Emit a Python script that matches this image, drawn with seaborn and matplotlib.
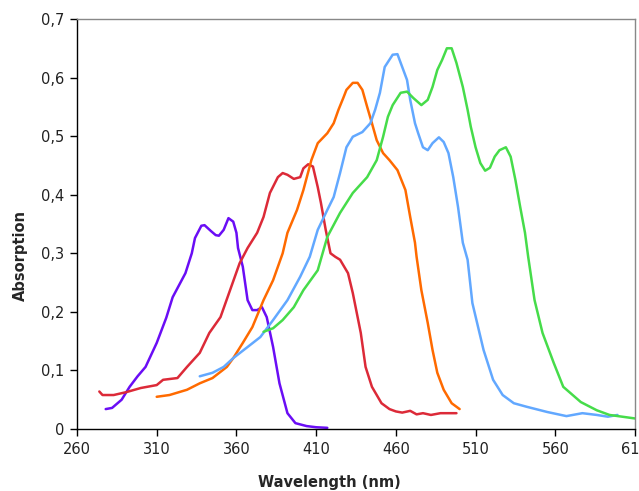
import matplotlib
matplotlib.use("Agg")
import pandas as pd
import matplotlib.pyplot as plt
import seaborn as sns
from matplotlib.ticker import FuncFormatter, MultipleLocator

# wavelength (nm) / absorption
purple_x = [278, 282, 288, 293, 298, 303, 310, 316, 320, 328, 332, 334, 338, 340, 344, 347, 349, 352, 355, 358, 360, 361,
            364, 367, 370, 373, 376, 379, 383, 387, 392, 397, 404, 410, 417]
purple_y = [0.034, 0.036, 0.05, 0.072, 0.09, 0.106, 0.147, 0.19, 0.225, 0.266, 0.30, 0.326, 0.347, 0.348, 0.338, 0.331, 0.33,
            0.34, 0.36, 0.354, 0.335, 0.309, 0.277, 0.22, 0.203, 0.203, 0.208, 0.191, 0.14, 0.078, 0.027, 0.01, 0.005, 0.003, 0.002]

red_x = [274, 276, 283, 291, 300, 310, 314, 323, 329, 337, 343, 350, 356, 362, 367, 373, 377, 381, 386, 389, 392, 396, 400,
         402, 405, 408, 411, 413, 416, 419, 422, 425, 430, 433, 438, 441, 445, 451, 456, 460, 464, 469, 473, 477, 482, 488, 493, 498]
red_y = [0.064, 0.058, 0.058, 0.063, 0.07, 0.075, 0.084, 0.087, 0.106, 0.13, 0.164, 0.191, 0.237, 0.283, 0.309, 0.335, 0.362,
         0.403, 0.43, 0.437, 0.434, 0.427, 0.43, 0.445, 0.452, 0.448, 0.413, 0.386, 0.34, 0.30, 0.294, 0.289, 0.266, 0.232,
         0.164, 0.106, 0.072, 0.044, 0.034, 0.03, 0.028, 0.031, 0.025, 0.027, 0.024, 0.027, 0.027, 0.027]

orange_x = [310, 318, 329, 337, 345, 354, 358, 364, 370, 377, 383, 389, 392, 398, 402, 407, 411, 417, 421, 424, 427, 429,
            433, 436, 439, 442, 445, 448, 452, 456, 461, 466, 469, 472, 473, 476, 480, 483, 486, 490, 495, 500]
orange_y = [0.055, 0.058, 0.067, 0.078, 0.087, 0.106, 0.121, 0.147, 0.174, 0.22, 0.254, 0.30, 0.335, 0.374, 0.408, 0.459,
            0.488, 0.505, 0.522, 0.545, 0.565, 0.579, 0.591, 0.591, 0.579, 0.55, 0.522, 0.493, 0.471, 0.459, 0.442, 0.408,
            0.362, 0.318, 0.294, 0.237, 0.181, 0.135, 0.096, 0.067, 0.044, 0.034]

blue_x = [337, 345, 352, 358, 367, 375, 383, 392, 400, 406, 411, 417, 421, 425, 429, 433, 439, 444, 447, 450, 453, 458, 461,
          464, 467, 469, 472, 474, 477, 480, 483, 487, 490, 493, 496, 499, 502, 505, 508, 515, 521, 527, 534, 542, 555, 567,
          577, 586, 593, 599]
blue_y = [0.09, 0.096, 0.106, 0.121, 0.14, 0.157, 0.186, 0.22, 0.26, 0.294, 0.34, 0.374, 0.396, 0.437, 0.481, 0.499, 0.507,
          0.522, 0.545, 0.574, 0.618, 0.639, 0.64, 0.618, 0.596, 0.562, 0.522, 0.505, 0.481, 0.476, 0.488, 0.498, 0.49, 0.471,
          0.43, 0.379, 0.318, 0.289, 0.215, 0.135, 0.084, 0.058, 0.044, 0.038, 0.029, 0.022, 0.027, 0.024, 0.021, 0.024]

green_x = [377, 383, 389, 396, 402, 411, 417, 425, 433, 442, 448, 452, 455, 458, 463, 467, 471, 476, 480, 483, 486, 489, 492,
           495, 498, 502, 505, 507, 510, 513, 516, 519, 522, 525, 529, 532, 535, 538, 541, 543, 547, 552, 559, 565, 576, 586,
           594, 610]
green_y = [0.166, 0.172, 0.186, 0.208, 0.237, 0.271, 0.328, 0.369, 0.403, 0.43, 0.459, 0.499, 0.533, 0.553, 0.574, 0.576,
           0.565, 0.553, 0.562, 0.584, 0.613, 0.63, 0.65, 0.65, 0.625, 0.584, 0.545, 0.516, 0.481, 0.454, 0.441, 0.446, 0.465,
           0.476, 0.481, 0.465, 0.425, 0.379, 0.335, 0.294, 0.22, 0.164, 0.113, 0.072, 0.046, 0.032, 0.024, 0.018]

x_ticks = [260, 310, 360, 410, 460, 510, 560, 610]

series = [
    (purple_x, purple_y, "#6A0DF5"),
    (red_x, red_y, "#DC2A38"),
    (orange_x, orange_y, "#FF6A00"),
    (blue_x, blue_y, "#62A8FF"),
    (green_x, green_y, "#46DC4A"),
]

sns.set_style("white")
plt.rcParams["font.family"] = ["DejaVu Sans"]

fig = plt.figure(figsize=(6.39, 4.91), dpi=100)
ax = fig.add_axes([77 / 639, 1 - 429 / 491, 558 / 639, 410 / 491])

for xs, ys, col in series:
    d = pd.DataFrame({"x": xs, "y": ys})
    sns.lineplot(data=d, x="x", y="y", color=col, linewidth=1.8, ax=ax, sort=False)

ax.set_xlim(260, 610)
ax.set_ylim(0, 0.7)
ax.set_xticks(x_ticks)
ax.yaxis.set_major_locator(MultipleLocator(0.1))
ax.yaxis.set_major_formatter(FuncFormatter(lambda v, p: "0" if abs(v) < 1e-9 else f"{v:.1f}".replace(".", ",")))
ax.tick_params(axis="both", direction="out", length=5, width=1, color="black", labelsize=10.5, pad=4, labelcolor="#222222")
ax.tick_params(left=True, bottom=True)

for s in ["left", "bottom"]:
    ax.spines[s].set_color("black")
    ax.spines[s].set_linewidth(1)
for s in ["top", "right"]:
    ax.spines[s].set_color("#888888")
    ax.spines[s].set_linewidth(1)

ax.set_xlabel("Wavelength (nm)", fontsize=10.5, fontweight="bold")
ax.set_ylabel("Absorption", fontsize=10.5, fontweight="bold")
ax.xaxis.set_label_coords(0.453, -0.13)
ax.xaxis.label.set_va("center")
ax.yaxis.set_label_coords(-0.102, 0.422)
ax.yaxis.label.set_va("center")

fig.savefig("out.png", dpi=100)
